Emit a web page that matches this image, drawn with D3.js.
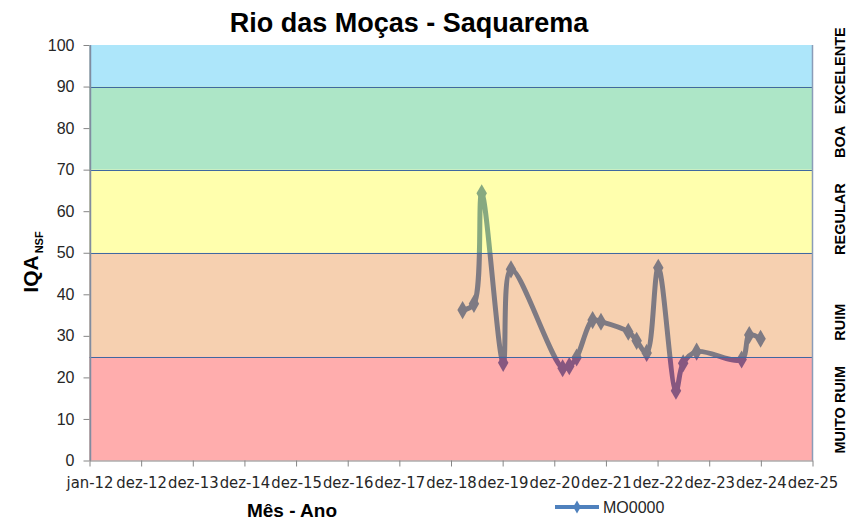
<!DOCTYPE html>
<html>
<head>
<meta charset="utf-8">
<script src="https://cdn.jsdelivr.net/npm/d3@7"></script>
<style>
  html, body { margin: 0; padding: 0; background: #ffffff; }
  svg { display: block; }
</style>
</head>
<body>
<svg id="chart" width="848" height="520"></svg>
<script>
// ---------------- data ----------------
const chartTitle = "Rio das Moças - Saquarema";
const seriesName = "MO0000";
const sampleDates = [
  "2019-03-22", "2019-06-10", "2019-08-04", "2020-01-03", "2020-02-27",
  "2021-02-26", "2021-04-14", "2021-06-05", "2021-09-26", "2021-11-24",
  "2022-06-05", "2022-08-03", "2022-10-13", "2023-01-03", "2023-05-08",
  "2023-06-28", "2023-10-01", "2024-08-14", "2024-10-07", "2024-12-26"
];
const iqaValues = [
  36.2, 37.7, 64.3, 23.5, 46.0,
  22.2, 22.7, 24.8, 33.8, 33.4,
  31.0, 28.8, 25.9, 46.4, 16.8,
  23.4, 26.2, 24.3, 30.2, 29.3
];
const xTickLabels = ["jan-12", "dez-12", "dez-13", "dez-14", "dez-15", "dez-16", "dez-17",
  "dez-18", "dez-19", "dez-20", "dez-21", "dez-22", "dez-23", "dez-24", "dez-25"];
const yTicks = [0, 10, 20, 30, 40, 50, 60, 70, 80, 90, 100];
const bandNames = ["MUITO RUIM", "RUIM", "REGULAR", "BOA", "EXCELENTE"];
const bandLow = [0, 25, 50, 70, 90];
const bandHigh = [25, 50, 70, 90, 100];
const bandColors = ["#FF0000", "#E46C0A", "#FFFF00", "#00B050", "#00B0F0"];

// ---------------- layout ----------------
const svg = d3.select("#chart");
const L = 89.5, R = 812.5, T = 45, B = 460.5;
const parse = d3.timeParse("%Y-%m-%d");
const xStart = new Date(2012, 0, 1);
const tickDates = xTickLabels.map((_, i) => d3.timeDay.offset(xStart, 365 * i));
const x = d3.scaleTime().domain([tickDates[0], tickDates[tickDates.length - 1]]).range([L, R]);
const y = d3.scaleLinear().domain([0, 100]).range([B, T]);
const data = sampleDates.map((d, i) => ({ date: parse(d), v: iqaValues[i] }));

const font = "'Liberation Sans', Arial, sans-serif";
const narrow = "'Liberation Sans Narrow', 'DejaVu Sans Condensed', 'Liberation Sans', sans-serif";
const lineBlue = "#4F81BD";

// ---------------- series (drawn under translucent bands) ----------------
const line = d3.line()
  .x(d => x(d.date)).y(d => y(d.v))
  .curve(d3.curveCatmullRom.alpha(0.5));
svg.append("path")
  .datum(data)
  .attr("d", line)
  .attr("fill", "none")
  .attr("stroke", lineBlue)
  .attr("stroke-width", 5)
  .attr("stroke-linejoin", "round");
svg.append("g").selectAll("path")
  .data(data).join("path")
  .attr("transform", d => `translate(${x(d.date)},${y(d.v)})`)
  .attr("d", d3.symbol().type(d3.symbolDiamond).size(95))
  .attr("fill", lineBlue);

// ---------------- quality bands ----------------
svg.append("g").selectAll("rect")
  .data(bandNames).join("rect")
  .attr("x", L)
  .attr("width", R - L)
  .attr("y", (d, i) => y(bandHigh[i]))
  .attr("height", (d, i) => y(bandLow[i]) - y(bandHigh[i]))
  .attr("fill", (d, i) => bandColors[i])
  .attr("fill-opacity", 0.32);

// band boundaries
svg.append("g").selectAll("line")
  .data(bandLow.filter(v => v > 0)).join("line")
  .attr("x1", L).attr("x2", R)
  .attr("y1", d => Math.round(y(d)) + 0.5).attr("y2", d => Math.round(y(d)) + 0.5)
  .attr("stroke", "#3F69A0").attr("stroke-width", 1);
// plot side edges
svg.append("line").attr("x1", R).attr("x2", R).attr("y1", T).attr("y2", B)
  .attr("stroke", "#8A9CB8").attr("stroke-width", 1.5);
svg.append("line").attr("x1", L + 1).attr("x2", L + 1).attr("y1", T).attr("y2", B)
  .attr("stroke", "#7C93B8").attr("stroke-width", 1.5);

// ---------------- axes ----------------
const yAxis = d3.axisLeft(y).tickValues(yTicks).tickSize(6).tickPadding(9).tickSizeOuter(0);
const gy = svg.append("g").attr("transform", `translate(${L},0)`).call(yAxis);
gy.select(".domain").attr("stroke", "#868686");
gy.selectAll(".tick line").attr("stroke", "#868686");
gy.selectAll(".tick text").attr("font-family", font).attr("font-size", 16).attr("fill", "#262626");

const xAxis = d3.axisBottom(x).tickValues(tickDates).tickSize(6).tickPadding(10).tickSizeOuter(0)
  .tickFormat((d, i) => xTickLabels[i]);
const gx = svg.append("g").attr("transform", `translate(0,${B})`).call(xAxis);
gx.select(".domain").attr("stroke", "#868686");
gx.selectAll(".tick line").attr("stroke", "#868686");
gx.selectAll(".tick text").attr("font-family", narrow).attr("font-size", 16.5).attr("fill", "#262626");

// ---------------- texts ----------------
svg.append("text")
  .attr("x", 409).attr("y", 32)
  .attr("text-anchor", "middle")
  .attr("font-family", font).attr("font-weight", "bold").attr("font-size", 27)
  .attr("fill", "#000").text(chartTitle);

const yTitle = svg.append("text")
  .attr("transform", "translate(38,262) rotate(-90)")
  .attr("text-anchor", "middle")
  .attr("font-family", font).attr("font-weight", "bold").attr("fill", "#000");
yTitle.append("tspan").attr("font-size", 21).text("IQA");
yTitle.append("tspan").attr("font-size", 11).attr("dy", 5).attr("dx", 2).text("NSF");

svg.append("text")
  .attr("x", 292).attr("y", 517)
  .attr("text-anchor", "middle")
  .attr("font-family", font).attr("font-weight", "bold").attr("font-size", 19)
  .attr("fill", "#000").text("Mês - Ano");

// band labels on the right
const labelAt = [12.2, 33.3, 58.1, 76.7, 93.8];
svg.append("g").selectAll("text")
  .data(bandNames).join("text")
  .attr("transform", (d, i) => `translate(845,${y(labelAt[i])}) rotate(-90)`)
  .attr("text-anchor", "middle")
  .attr("font-family", font).attr("font-weight", "bold").attr("font-size", 14.5)
  .attr("fill", "#000")
  .text(d => d);

// legend
const lg = svg.append("g").attr("transform", "translate(555,507)");
lg.append("line").attr("x1", 0).attr("x2", 44).attr("y1", 0).attr("y2", 0)
  .attr("stroke", lineBlue).attr("stroke-width", 4);
lg.append("path").attr("transform", "translate(22,0)")
  .attr("d", d3.symbol().type(d3.symbolDiamond).size(50)).attr("fill", lineBlue);
lg.append("text").attr("x", 48).attr("y", 6)
  .attr("font-family", font).attr("font-size", 16).attr("fill", "#262626").text(seriesName);
</script>
</body>
</html>
